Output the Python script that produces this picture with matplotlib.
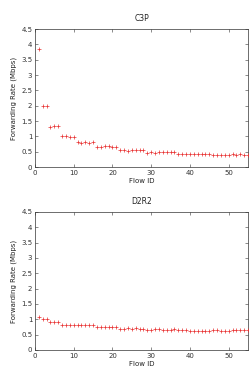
import matplotlib
matplotlib.use("Agg")
import matplotlib.pyplot as plt
import numpy as np

flow_id = list(range(1, 56))

c3p_rate = [3.85, 2.0, 2.0, 1.3, 1.35, 1.35, 1.02, 1.0, 0.97, 0.98,
            0.8, 0.78, 0.8, 0.78, 0.8, 0.66, 0.65, 0.67, 0.69, 0.65,
            0.66, 0.55, 0.57, 0.53, 0.54, 0.57, 0.57, 0.57, 0.47, 0.5,
            0.46, 0.5, 0.5, 0.5, 0.5, 0.5, 0.44, 0.43, 0.43, 0.44,
            0.41, 0.43, 0.44, 0.44, 0.44, 0.39, 0.4, 0.4, 0.4, 0.4,
            0.41, 0.4, 0.42, 0.39, 0.38]

d2r2_rate = [1.07, 1.02, 1.02, 0.9, 0.91, 0.9, 0.82, 0.82, 0.82, 0.83,
             0.8, 0.8, 0.8, 0.8, 0.8, 0.74, 0.74, 0.74, 0.74, 0.74,
             0.74, 0.7, 0.7, 0.71, 0.7, 0.71, 0.7, 0.7, 0.66, 0.66,
             0.68, 0.68, 0.65, 0.65, 0.65, 0.67, 0.66, 0.66, 0.66, 0.62,
             0.62, 0.62, 0.62, 0.62, 0.62, 0.66, 0.66, 0.62, 0.62, 0.62,
             0.65, 0.65, 0.65, 0.65, 0.65]

titles = ["C3P", "D2R2"]
series = [c3p_rate, d2r2_rate]

fig = plt.figure(figsize=(2.49, 3.73), dpi=100)
fs = 5
boxes = [[35/249, 1 - 167/373, 213/249, 138/373],
         [35/249, 1 - 350/373, 213/249, 138/373]]

for box, title, rate in zip(boxes, titles, series):
    ax = fig.add_axes(box)
    ax.plot(flow_id, rate, linestyle="none", marker="+", color="#e83030",
            markersize=2.2, markeredgewidth=0.5, zorder=3)
    ax.set_xlim(0, 55)
    ax.set_ylim(0, 4.5)
    ax.set_xticks(np.arange(0, 51, 10))
    ax.set_yticks(np.arange(0, 4.6, 0.5))
    ax.set_yticklabels(["0", "0.5", "1", "1.5", "2", "2.5", "3", "3.5", "4", "4.5"])
    ax.tick_params(direction="in", length=2.5, width=0.4, labelsize=fs,
                   top=True, right=True, pad=2, colors="#333333")
    for s in ax.spines.values():
        s.set_linewidth(0.5)
        s.set_color("#333333")
    ax.set_title(title, fontsize=fs + 0.5, pad=6, color="#222222")
    ax.set_xlabel("Flow ID", fontsize=fs, labelpad=1.5, color="#222222")
    ax.set_ylabel("Forwarding Rate (Mbps)", fontsize=fs, labelpad=3, color="#222222")

fig.savefig("out.png", dpi=100)
